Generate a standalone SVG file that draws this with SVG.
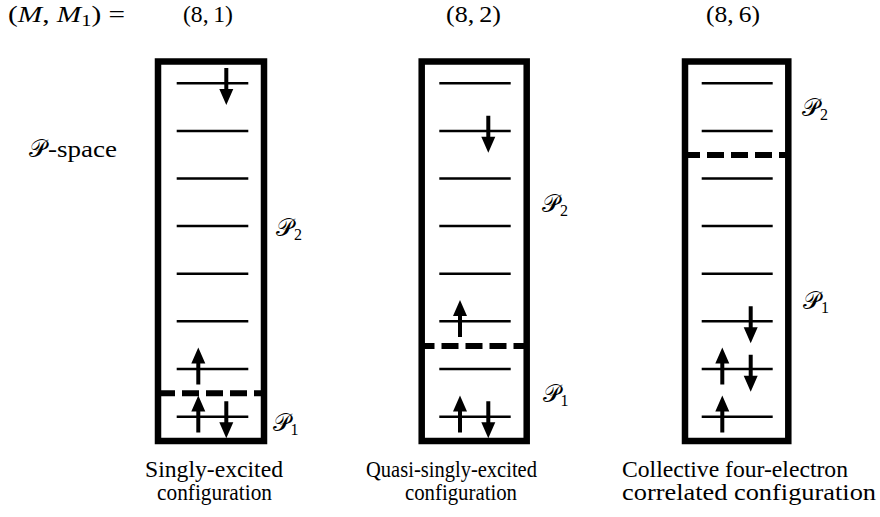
<svg xmlns="http://www.w3.org/2000/svg" width="880" height="517" viewBox="0 0 880 517">
<style>
.box{fill:none;stroke:#000;stroke-width:6.5}
.lvl{stroke:#000;stroke-width:2.6}
.dash{stroke:#000;stroke-width:6;stroke-dasharray:17 7}
.arr{fill:#000}
</style>
<defs>
<path id="up" d="M0,0 L7,16 L2,16 L2,37 L-2,37 L-2,16 L-7,16 Z"/>
<path id="dn" d="M0,0 L7,-16 L2,-16 L2,-37 L-2,-37 L-2,-16 L-7,-16 Z"/>
</defs>

<g id="header" fill="#000">
<text font-family="Liberation Serif" font-size="23" x="8" y="22" textLength="117" lengthAdjust="spacingAndGlyphs">(<tspan font-style="italic">M</tspan>, <tspan font-style="italic">M</tspan><tspan font-size="16" dy="4">1</tspan><tspan dy="-4">)  =</tspan></text>
<text font-family="Liberation Serif" font-size="23" x="183" y="22" textLength="50" lengthAdjust="spacingAndGlyphs">(8,&#8201;1)</text>
<text font-family="Liberation Serif" font-size="23" x="446" y="22" textLength="55" lengthAdjust="spacingAndGlyphs">(8,&#8201;2)</text>
<text font-family="Liberation Serif" font-size="23" x="706" y="22" textLength="54" lengthAdjust="spacingAndGlyphs">(8,&#8201;6)</text>
<text font-family="Liberation Serif" font-size="23" x="48" y="157" textLength="69" lengthAdjust="spacingAndGlyphs">-space</text>
</g>

<g id="box1">
<rect class="box" x="158" y="61.5" width="106" height="379.5"/>
<g class="lvl">
<line x1="176.7" y1="83.3" x2="248.3" y2="83.3"/>
<line x1="176.7" y1="131" x2="248.3" y2="131"/>
<line x1="176.7" y1="178.5" x2="248.3" y2="178.5"/>
<line x1="176.7" y1="226" x2="248.3" y2="226"/>
<line x1="176.7" y1="273.7" x2="248.3" y2="273.7"/>
<line x1="176.7" y1="321.3" x2="248.3" y2="321.3"/>
<line x1="176.7" y1="369" x2="248.3" y2="369"/>
<line x1="176.7" y1="416.7" x2="248.3" y2="416.7"/>
</g>
<line class="dash" x1="158" y1="393.3" x2="264" y2="393.3"/>
<g class="arr">
<use href="#dn" x="226.3" y="105"/>
<use href="#up" x="198.3" y="347.5"/>
<use href="#up" x="198.3" y="395.5"/>
<use href="#dn" x="226.3" y="438.3"/>
</g>
<g fill="#000">
<text font-family="Liberation Serif" font-size="16" x="294" y="240">2</text>
<text font-family="Liberation Serif" font-size="16" x="290.5" y="435">1</text>
<text font-family="Liberation Serif" font-size="23" x="145" y="477" textLength="138" lengthAdjust="spacingAndGlyphs">Singly-excited</text>
<text font-family="Liberation Serif" font-size="23" x="157" y="500" textLength="115" lengthAdjust="spacingAndGlyphs">configuration</text>
</g>
</g>

<g id="box2">
<rect class="box" x="421.7" y="61.5" width="105" height="379.5"/>
<g class="lvl">
<line x1="439.3" y1="83.3" x2="510.7" y2="83.3"/>
<line x1="439.3" y1="131" x2="510.7" y2="131"/>
<line x1="439.3" y1="178.5" x2="510.7" y2="178.5"/>
<line x1="439.3" y1="226" x2="510.7" y2="226"/>
<line x1="439.3" y1="273.7" x2="510.7" y2="273.7"/>
<line x1="439.3" y1="321.3" x2="510.7" y2="321.3"/>
<line x1="439.3" y1="369" x2="510.7" y2="369"/>
<line x1="439.3" y1="416.7" x2="510.7" y2="416.7"/>
</g>
<line class="dash" x1="421.7" y1="346" x2="526.7" y2="346" stroke-dashoffset="4.2"/>
<g class="arr">
<use href="#dn" x="488.3" y="152.7"/>
<use href="#up" x="460" y="300"/>
<use href="#up" x="460" y="395.5"/>
<use href="#dn" x="488.3" y="438.3"/>
</g>
<g fill="#000">
<text font-family="Liberation Serif" font-size="16" x="560" y="216">2</text>
<text font-family="Liberation Serif" font-size="16" x="560.5" y="406">1</text>
<text font-family="Liberation Serif" font-size="23" x="366" y="477" textLength="171" lengthAdjust="spacingAndGlyphs">Quasi-singly-excited</text>
<text font-family="Liberation Serif" font-size="23" x="405" y="500" textLength="112" lengthAdjust="spacingAndGlyphs">configuration</text>
</g>
</g>

<g id="box3">
<rect class="box" x="685" y="61.5" width="103.3" height="379.5"/>
<g class="lvl">
<line x1="701.7" y1="83.3" x2="772.7" y2="83.3"/>
<line x1="701.7" y1="131" x2="772.7" y2="131"/>
<line x1="701.7" y1="178.5" x2="772.7" y2="178.5"/>
<line x1="701.7" y1="226" x2="772.7" y2="226"/>
<line x1="701.7" y1="273.7" x2="772.7" y2="273.7"/>
<line x1="701.7" y1="321.3" x2="772.7" y2="321.3"/>
<line x1="701.7" y1="369" x2="772.7" y2="369"/>
<line x1="701.7" y1="416.7" x2="772.7" y2="416.7"/>
</g>
<line class="dash" x1="685" y1="155" x2="788.3" y2="155" stroke-dashoffset="2"/>
<g class="arr">
<use href="#dn" x="750.7" y="343.3"/>
<use href="#up" x="722.3" y="347.5"/>
<use href="#dn" x="750.7" y="391.7"/>
<use href="#up" x="722.3" y="395.5"/>
</g>
<g fill="#000">
<text font-family="Liberation Serif" font-size="16" x="820" y="120">2</text>
<text font-family="Liberation Serif" font-size="16" x="821" y="313">1</text>
<text font-family="Liberation Serif" font-size="23" x="622" y="477" textLength="226" lengthAdjust="spacingAndGlyphs">Collective four-electron</text>
<text font-family="Liberation Serif" font-size="23" x="622" y="500" textLength="254" lengthAdjust="spacingAndGlyphs">correlated configuration</text>
</g>
</g>

<g id="calligraphic-P" font-family="DejaVu Sans" font-size="24" fill="#000">
<text x="29" y="157">𝒫</text>
<text x="276" y="236">𝒫</text>
<text x="272.5" y="431">𝒫</text>
<text x="542" y="212">𝒫</text>
<text x="542.5" y="402">𝒫</text>
<text x="802" y="116">𝒫</text>
<text x="803" y="309">𝒫</text>
</g>
</svg>
